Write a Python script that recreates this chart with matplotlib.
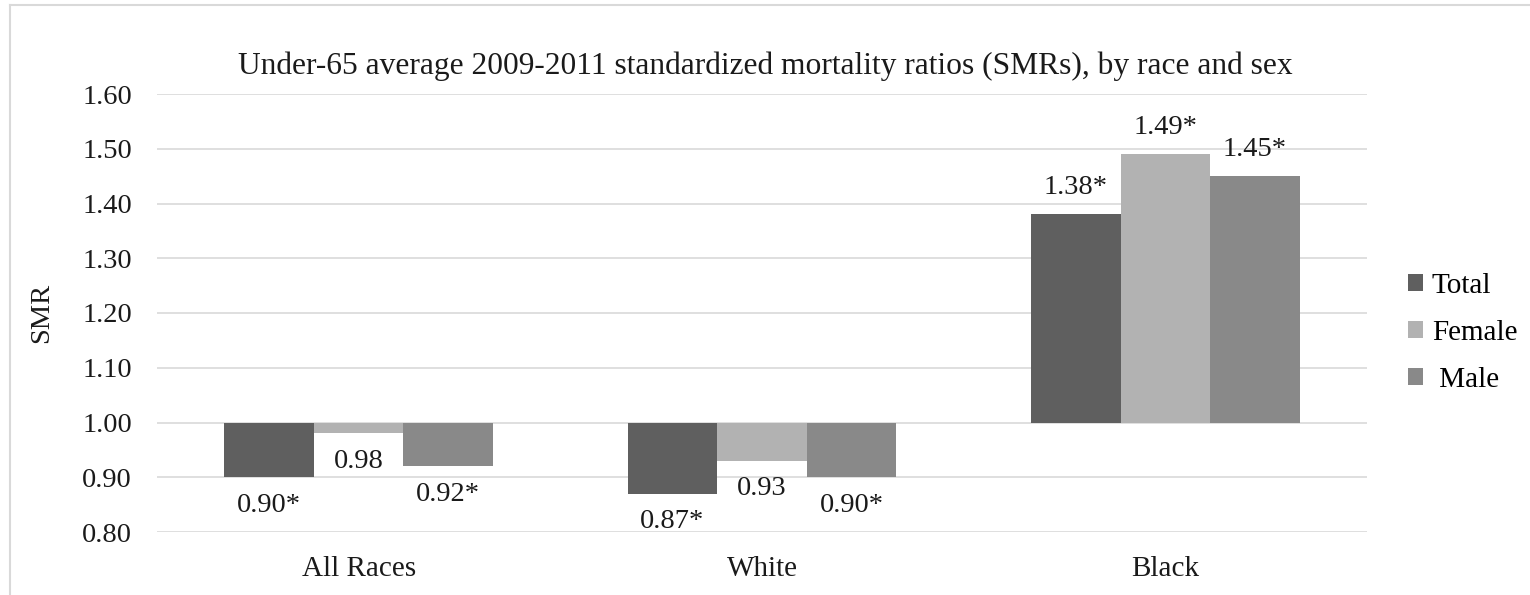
import numpy as np
import matplotlib
matplotlib.use("Agg")
import matplotlib.pyplot as plt
from matplotlib.patches import Patch
from matplotlib.lines import Line2D

categories = ["All Races", "White", "Black"]
series_names = ["Total", "Female", " Male"]
total = [0.90, 0.87, 1.38]
female = [0.98, 0.93, 1.49]
male = [0.92, 0.90, 1.45]
# significance flags for the labels (* = significant)
total_sig = [True, True, True]
female_sig = [False, False, True]
male_sig = [True, True, True]
yticks = [0.80, 0.90, 1.00, 1.10, 1.20, 1.30, 1.40, 1.50, 1.60]

colors = ["#5f5f5f", "#b2b2b2", "#898989"]
grid_color = "#d9d9d9"
text_color = "#1a1a1a"
baseline = 1.0

plt.rcParams["font.family"] = ["Liberation Serif", "DejaVu Serif"]

fig = plt.figure(figsize=(15.3, 5.95), dpi=100)
ax = fig.add_axes([157 / 1530, 1 - 532 / 595, (1367 - 157) / 1530, (532 - 94) / 595])

x = np.arange(len(categories))
width = 0.222
series = [total, female, male]
sigs = [total_sig, female_sig, male_sig]

for i, (vals, sig, col) in enumerate(zip(series, sigs, colors)):
    pos = x + (i - 1) * width
    heights = [v - baseline for v in vals]
    ax.bar(pos, heights, width, bottom=baseline, color=col, zorder=3)
    for p, v, s in zip(pos, vals, sig):
        label = f"{v:.2f}" + ("*" if s else "")
        off = 19.5 if v >= baseline else -20
        ax.annotate(label, (p, v), xytext=(0, off), textcoords="offset points",
                    ha="center", va="center", fontsize=20.5, color=text_color)

ax.set_ylim(0.8, 1.6)
ax.set_xlim(-0.5, len(categories) - 0.5)
ax.set_yticks(yticks)
ax.set_yticklabels([f"{t:.2f}" for t in yticks], fontsize=20.5)
ax.set_xticks(x)
ax.set_xticklabels(categories, fontsize=21)
ax.tick_params(axis="both", length=0, colors=text_color)
ax.tick_params(axis="y", pad=18)
ax.tick_params(axis="x", pad=17)
ax.yaxis.grid(True, color=grid_color, linewidth=1.2, zorder=0)
for sp in ax.spines.values():
    sp.set_visible(False)
ax.set_ylabel("SMR", fontsize=20.5, color=text_color, labelpad=20)

fig.text(0.5, 1 - 66 / 595, "Under-65 average 2009-2011 standardized mortality ratios (SMRs), by race and sex",
         ha="center", va="center", fontsize=22.7, color=text_color)

handles = [Patch(facecolor=c, edgecolor="none") for c in colors]
fig.legend(handles, series_names, loc="center left", bbox_to_anchor=(1408 / 1530, 1 - 333 / 595),
           frameon=False, fontsize=21, handlelength=0.52, handleheight=0.52,
           handletextpad=0.3, labelspacing=0.72, borderpad=0, borderaxespad=0)

# outer chart border (left and top edges)
fig.add_artist(Line2D([10 / 1530, 10 / 1530], [0, 1 - 5 / 595], color=grid_color, linewidth=1.5))
fig.add_artist(Line2D([10 / 1530, 1], [1 - 5 / 595, 1 - 5 / 595], color=grid_color, linewidth=1.5))

fig.savefig("out.png", dpi=100)
